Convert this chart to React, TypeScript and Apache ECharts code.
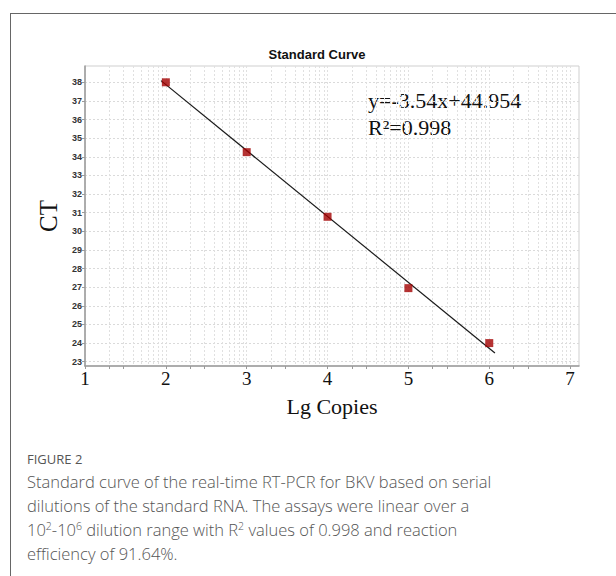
import React, { useEffect, useRef } from "react";
import * as echarts from "echarts";

// ---- data ----
const lgCopies = [2, 3, 4, 5, 6];
const ctValues = [38.0, 34.25, 30.78, 26.95, 24.0];
// regression line y = -3.54x + 44.954, endpoints as drawn
const fitLine: [number, number][] = [
  [1.94, 38.09],
  [6.07, 23.47],
];
const xTickLabels = [1, 2, 3, 4, 5, 6, 7];
const yTickLabels = [23, 24, 25, 26, 27, 28, 29, 30, 31, 32, 33, 34, 35, 36, 37, 38];
// x tick marks (integers plus first two log subdivisions)
const xTicks = [1, 1.301, 1.477, 2, 2.301, 2.477, 3, 3.301, 3.477, 4, 4.301, 4.477, 5, 5.301, 5.477, 6, 6.301, 6.477, 7];
// vertical dotted grid lines on log subdivisions
const logSub = [0, 0.301, 0.477, 0.602, 0.699, 0.778, 0.845, 0.903, 0.954];
const xGrid: number[] = [];
[1, 2, 3, 4, 5, 6, 7].forEach((n) => logSub.forEach((s) => xGrid.push(+(n + s).toFixed(3))));
const equationText = "y=-3.54x+44.954";
const r2Text = "R\u00B2=0.998";
const chartTitle = "Standard Curve";

const X_MIN = 1;
const X_MAX = 7.11;
const Y_MIN = 22.77;
const Y_MAX = 38.875;

export default function App() {
  const ref = useRef<HTMLDivElement>(null);
  useEffect(() => {
    if (!ref.current) return;
    const chart = echarts.init(ref.current, undefined, { renderer: "svg" });
    const serif = "'Liberation Serif', 'Times New Roman', serif";
    chart.setOption({
      animation: false,
      grid: {
        left: 85,
        top: 66,
        width: 494,
        height: 300,
        show: true,
        borderColor: "#cfcfcf",
        borderWidth: 1,
        backgroundColor: "transparent",
      },
      xAxis: [
        {
          type: "value",
          min: X_MIN,
          max: X_MAX,
          position: "bottom",
          name: "Lg Copies",
          nameLocation: "middle",
          nameGap: 29,
          nameTextStyle: { fontFamily: serif, fontSize: 22, color: "#111" },
          axisLine: { show: true, lineStyle: { color: "#9a9a9a", width: 1.5 } },
          axisTick: { show: true, length: 3, customValues: xTicks, lineStyle: { color: "#9a9a9a" } },
          axisLabel: {
            customValues: xTickLabels,
            fontFamily: serif,
            fontSize: 19,
            color: "#111",
            margin: 3,
          },
          splitLine: { show: false },
        },
        {
          type: "value",
          min: X_MIN,
          max: X_MAX,
          position: "top",
          axisLine: { show: false },
          axisTick: { show: false, customValues: xGrid },
          axisLabel: { show: false },
          splitLine: { show: true, lineStyle: { color: "#e0e0e0", type: [2, 2], width: 1 } },
        },
      ],
      yAxis: {
        type: "value",
        min: Y_MIN,
        max: Y_MAX,
        name: "CT",
        nameLocation: "middle",
        nameGap: 13,
        nameRotate: 90,
        nameTextStyle: { fontFamily: serif, fontSize: 25, color: "#111" },
        axisLine: { show: true, lineStyle: { color: "#9a9a9a", width: 1.5 } },
        axisTick: { show: true, length: 3, customValues: yTickLabels, lineStyle: { color: "#9a9a9a" } },
        axisLabel: {
          customValues: yTickLabels,
          fontFamily: "'Liberation Sans', Arial, sans-serif",
          fontSize: 9,
          fontWeight: "bold",
          color: "#333",
          margin: 3,
        },
        splitLine: { show: true, lineStyle: { color: "#dadada", type: [2, 2], width: 1 } },
      },
      graphic: [
        {
          type: "text",
          x: 317,
          y: 54,
          style: {
            text: chartTitle,
            fontFamily: "'Liberation Sans', Arial, sans-serif",
            fontSize: 13,
            fontWeight: "bold",
            fill: "#111",
            align: "center",
            verticalAlign: "middle",
          },
        },
        {
          type: "text",
          x: 368,
          y: 100,
          style: { text: equationText, fontFamily: serif, fontSize: 22, fill: "#111", verticalAlign: "middle" },
        },
        {
          type: "text",
          x: 368,
          y: 127,
          style: { text: r2Text, fontFamily: serif, fontSize: 22, fill: "#111", verticalAlign: "middle" },
        },
      ],
      series: [
        {
          type: "line",
          data: fitLine,
          symbol: "none",
          lineStyle: { color: "#1a1a1a", width: 1.2 },
          z: 2,
        },
        {
          type: "scatter",
          data: lgCopies.map((x, i) => [x, ctValues[i]]),
          symbol: "rect",
          symbolSize: 8,
          itemStyle: { color: "#a30000" },
          z: 3,
        },
      ],
    });
    return () => chart.dispose();
  }, []);

  const captionFont = "'Open Sans', 'Noto Sans', sans-serif";
  const supStyle = { fontSize: 10.5, lineHeight: 0 };
  return (
    <div style={{ position: "fixed", left: 0, top: 0, width: 616, height: 576, background: "#fff", overflow: "hidden" }}>
      <div
        style={{
          position: "absolute",
          left: 10,
          top: 13,
          width: 800,
          height: 800,
          borderLeft: "1.5px solid #666",
          borderTop: "1.5px solid #666",
        }}
      />
      <div ref={ref} style={{ position: "absolute", left: 0, top: 0, width: 616, height: 430 }} />
      <div
        style={{
          position: "absolute",
          left: 27,
          top: 450,
          fontFamily: captionFont,
          fontSize: 13,
          color: "#555",
        }}
      >
        FIGURE 2
      </div>
      <div
        style={{
          position: "absolute",
          left: 27,
          top: 470,
          width: 580,
          fontFamily: captionFont,
          fontSize: 16.5,
          fontWeight: 300,
          lineHeight: "24px",
          color: "#555",
          whiteSpace: "nowrap",
        }}
      >
        Standard curve of the real-time RT-PCR for BKV based on serial
        <br />
        dilutions of the standard RNA. The assays were linear over a
        <br />
        10<sup style={supStyle}>2</sup>-10<sup style={supStyle}>6</sup> dilution range with R
        <sup style={supStyle}>2</sup> values of 0.998 and reaction
        <br />
        efficiency of 91.64%.
      </div>
    </div>
  );
}
